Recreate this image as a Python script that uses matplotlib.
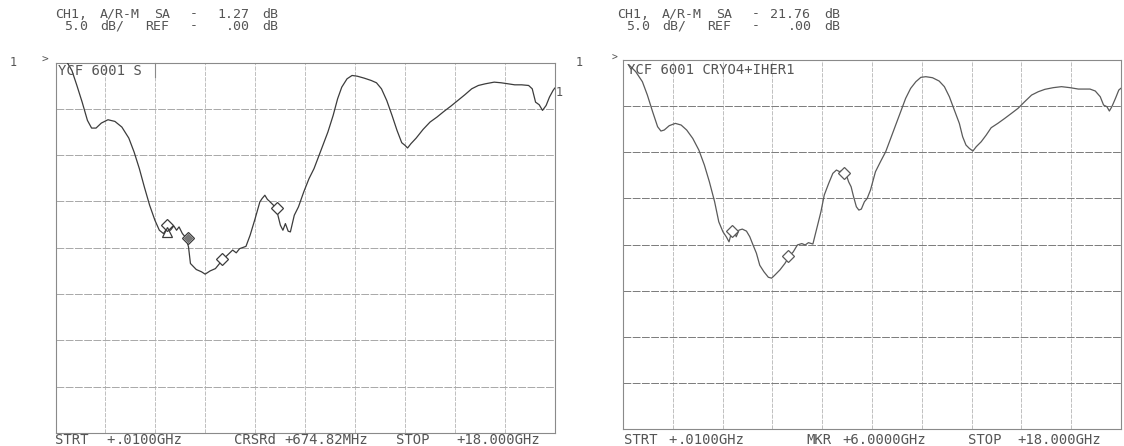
"""Two network-analyser plots (A/R-M SA, 5 dB/div) redrawn side by side."""

import re

import matplotlib

matplotlib.use("Agg")
import matplotlib.pyplot as plt  # noqa: E402
import numpy as np  # noqa: E402

W, H = 1124, 446
FONT = "DejaVu Sans Mono"
TXT = "#555555"
CELL = 9.0  # plotter character pitch, px

# sweep: 0.01 .. 18 GHz, 10 divisions; 0 dB at top, 5 dB/div, 8 divisions
F_START, F_STOP = 0.01, 18.0
REF_DB, DB_PER_DIV, N_YDIV = 0.0, 5.0, 8

# ---- left trace: YCF 6001 S ------------------------------------------------
left_freq = [
    0.43, 0.60, 0.78, 0.97, 1.16, 1.31, 1.47, 1.66, 1.90, 2.15,
    2.40, 2.65, 2.84, 3.03, 3.21, 3.40, 3.59, 3.75, 3.90, 4.02,
    4.15, 4.27, 4.37, 4.46, 4.58, 4.71, 4.80, 4.87, 5.08, 5.27,
    5.40, 5.58, 5.77, 5.92, 6.08, 6.27, 6.39, 6.52, 6.64, 6.87,
    7.02, 7.20, 7.37, 7.45, 7.55, 7.64, 7.74, 7.86, 7.99, 8.11,
    8.20, 8.29, 8.39, 8.47, 8.61, 8.76, 8.95, 9.14, 9.32, 9.57,
    9.82, 10.01, 10.17, 10.32, 10.51, 10.69, 10.88, 11.13, 11.38, 11.57,
    11.75, 11.94, 12.13, 12.31, 12.48, 12.60, 12.69, 12.81, 13.00, 13.25,
    13.50, 13.75, 14.00, 14.25, 14.50, 14.75, 15.00, 15.24, 15.49, 15.81,
    16.06, 16.31, 16.55, 16.80, 17.05, 17.18, 17.30, 17.43, 17.55, 17.68,
    17.80, 17.93, 17.99,
]
left_db = [
    0.0, -0.86, -2.48, -4.28, -6.25, -7.08, -7.08, -6.54, -6.18, -6.36,
    -6.97, -8.16, -9.66, -11.46, -13.44, -15.41, -17.03, -18.11, -18.47, -17.93,
    -18.11, -17.64, -18.11, -17.75, -18.47, -18.93, -19.90, -21.70, -22.35, -22.60,
    -22.85, -22.50, -22.25, -21.70, -21.15, -20.60, -20.25, -20.55, -20.10, -19.85,
    -18.64, -16.85, -15.05, -14.69, -14.33, -14.77, -15.05, -15.41, -16.13, -17.57,
    -18.11, -17.39, -18.21, -18.29, -16.49, -15.59, -13.98, -12.54, -11.46, -9.49,
    -7.51, -5.71, -3.92, -2.66, -1.76, -1.40, -1.48, -1.69, -1.94, -2.19,
    -2.84, -4.10, -5.71, -7.33, -8.66, -8.95, -9.23, -8.77, -8.16, -7.22,
    -6.43, -5.89, -5.28, -4.71, -4.10, -3.49, -2.84, -2.48, -2.30, -2.12,
    -2.19, -2.30, -2.41, -2.41, -2.48, -2.84, -4.28, -4.56, -5.17, -4.64,
    -3.74, -3.02, -2.77,
]
left_mkr_freq = [4.01, 4.77, 5.99, 7.97]
left_mkr_db = [-17.5, -18.9, -21.25, -15.7]
left_ref_freq, left_ref_db = 4.01, -18.3

# ---- right trace: YCF 6001 CRYO4+IHER1 -------------------------------------
right_freq = [
    0.23, 0.47, 0.71, 0.89, 1.08, 1.26, 1.38, 1.50, 1.68, 1.90,
    2.11, 2.31, 2.53, 2.75, 2.95, 3.13, 3.32, 3.47, 3.62, 3.74,
    3.84, 3.92, 4.01, 4.10, 4.20, 4.32, 4.47, 4.59, 4.71, 4.83,
    4.95, 5.10, 5.26, 5.38, 5.50, 5.68, 5.86, 6.02, 6.16, 6.31,
    6.47, 6.59, 6.71, 6.87, 6.95, 7.04, 7.16, 7.28, 7.44, 7.59,
    7.72, 7.84, 7.96, 8.08, 8.16, 8.25, 8.34, 8.44, 8.53, 8.62,
    8.73, 8.83, 8.95, 9.13, 9.31, 9.50, 9.68, 9.86, 10.04, 10.22,
    10.40, 10.59, 10.77, 10.95, 11.19, 11.43, 11.62, 11.80, 11.98, 12.16,
    12.28, 12.40, 12.52, 12.65, 12.77, 12.95, 13.13, 13.31, 13.55, 13.80,
    14.04, 14.28, 14.52, 14.77, 15.01, 15.25, 15.55, 15.85, 16.16, 16.46,
    16.88, 17.07, 17.25, 17.37, 17.49, 17.58, 17.67, 17.80, 17.92, 17.99,
]
right_db = [
    -0.54, -1.27, -2.35, -3.80, -5.61, -7.23, -7.70, -7.59, -7.12, -6.87,
    -7.05, -7.59, -8.50, -9.76, -11.39, -13.20, -15.37, -17.54, -18.62, -19.16,
    -19.71, -18.80, -18.33, -19.16, -18.44, -18.33, -18.55, -19.16, -20.07, -20.95,
    -22.25, -22.95, -23.55, -23.65, -23.30, -22.75, -22.05, -21.25, -20.80, -20.05,
    -19.90, -20.05, -19.80, -19.95, -18.98, -17.90, -16.45, -14.64, -13.38, -12.29,
    -11.93, -12.11, -11.93, -12.48, -13.20, -13.74, -14.83, -15.91, -16.27, -16.16,
    -15.37, -15.01, -14.10, -12.11, -11.03, -9.94, -8.50, -7.05, -5.61, -4.16,
    -3.08, -2.35, -1.88, -1.81, -1.92, -2.28, -2.89, -3.98, -5.43, -6.87,
    -8.32, -9.22, -9.58, -9.87, -9.40, -8.86, -8.14, -7.34, -6.87, -6.33,
    -5.79, -5.24, -4.52, -3.80, -3.44, -3.18, -3.00, -2.89, -3.00, -3.15,
    -3.15, -3.36, -3.98, -4.88, -5.06, -5.53, -5.06, -4.16, -3.26, -3.08,
]
right_mkr_freq = [3.94, 5.98, 7.99]
right_mkr_db = [-18.5, -21.26, -12.2]

# header / footer texts, as printed by the plotter
left_header = ["CH1, A/R-M SA  -  1.27 dB", " 5.0 dB/  REF  -   .00 dB"]
right_header = ["CH1, A/R-M SA  - 21.76 dB", " 5.0 dB/  REF  -   .00 dB"]
left_footer = [("STRT", 55), ("+", 106), (".0100GHz", 116), ("CRSRd", 234),
               ("+674.82MHz", 284), ("STOP", 396), ("+18.000GHz", 456)]
right_footer = [("STRT", 624), ("+", 668), (".0100GHz", 678), ("MKR", 806),
                ("+6.0000GHz", 842), ("STOP", 968), ("+18.000GHz", 1017)]


def put(fig, x, y, s, size=9, **kw):
    """Place text at pixel coords (x from left, y from top)."""
    fig.text(x / W, 1 - y / H, s, fontsize=size, family=FONT, color=TXT,
             va="center", ha=kw.pop("ha", "left"), **kw)


def put_line(fig, x0, y, line, size=9):
    """Plotter line on a fixed character pitch, one word at a time."""
    for m in re.finditer(r"\S+", line):
        put(fig, x0 + m.start() * CELL, y, m.group(), size=size)


def panel(fig, rect, freq, db, trace_color, hgrid_color):
    ax = fig.add_axes(rect)
    ax.set_xlim(F_START, F_STOP)
    ax.set_ylim(REF_DB - N_YDIV * DB_PER_DIV, REF_DB)
    for xv in np.linspace(F_START, F_STOP, 11)[1:-1]:
        ax.axvline(xv, color="#b5b5b5", lw=0.6, ls=(0, (5, 1.5)), zorder=1)
    for yv in np.arange(1, N_YDIV) * -DB_PER_DIV:
        ax.axhline(yv, color=hgrid_color, lw=0.7, ls=(0, (8, 1.5)), zorder=1)
    ax.plot(freq, db, color=trace_color, lw=0.9, zorder=3, clip_on=True)
    ax.set_xticks([])
    ax.set_yticks([])
    for sp in ax.spines.values():
        sp.set_color("#8a8a8a")
        sp.set_linewidth(0.8)
    return ax


fig = plt.figure(figsize=(W / 100, H / 100), dpi=100)
fig.patch.set_facecolor("white")

# left panel: x 55.5..555 px, y 62.5..433 px
axL = panel(fig, [55.5 / W, 13 / H, 499.5 / W, 370.5 / H],
            left_freq, left_db, "#3c3c3c", "#a8a8a8")
axL.plot(left_mkr_freq, left_mkr_db, ls="none", marker="D", ms=6.5,
         mfc="white", mec="#3c3c3c", mew=0.9, zorder=4)
axL.plot(left_mkr_freq[1], left_mkr_db[1], ls="none", marker="D", ms=4,
         mfc="#777777", mec="#777777", zorder=5)
axL.plot(left_ref_freq, left_ref_db, ls="none", marker="^", ms=6.5,
         mfc="none", mec="#3c3c3c", mew=0.9, zorder=4)

# right panel: x 623..1121 px, y 60..429 px
axR = panel(fig, [623 / W, 17 / H, 498 / W, 369 / H],
            right_freq, right_db, "#5a5a5a", "#7a7a7a")
axR.plot(right_mkr_freq, right_mkr_db, ls="none", marker="D", ms=6.5,
         mfc="white", mec="#5a5a5a", mew=0.9, zorder=4)

# headers
for i, line in enumerate(left_header):
    put_line(fig, 55, 14 + 12 * i, line, size=9.5)
for i, line in enumerate(right_header):
    put_line(fig, 617, 14 + 12 * i, line, size=9.5)

# channel / reference indicators
put(fig, 10, 63, "1", size=8.5)
put(fig, 42, 60, ">", size=8)
put(fig, 576, 62, "1", size=8.5)
put(fig, 612, 58, ">", size=7)
put(fig, 556, 92, "1", size=8.5)

# trace labels inside the grids
put(fig, 58, 71, "YCF 6001 S", size=10)
fig.add_artist(plt.Line2D([155 / W, 155 / W], [1 - 63 / H, 1 - 77 / H],
                          color="#8a8a8a", lw=0.8))
put(fig, 627, 70, "YCF 6001 CRYO4+IHER1", size=10)

# footers
for s, x in left_footer:
    put(fig, x, 440, s, size=10)
for s, x in right_footer:
    put(fig, x, 440, s, size=10)

fig.savefig("out.png", dpi=100)
